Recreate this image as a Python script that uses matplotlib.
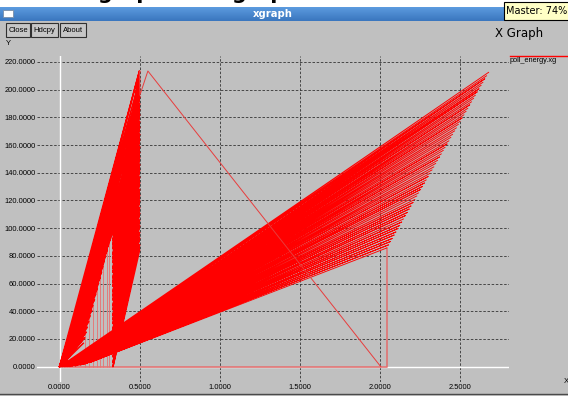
import numpy as np
import matplotlib
matplotlib.use("Agg")
import matplotlib.pyplot as plt
from matplotlib.patches import Rectangle

plt.rcParams['font.family'] = ['Liberation Sans', 'DejaVu Sans']

# ---- chart data ----
x_ticks = [0.0, 0.5, 1.0, 1.5, 2.0, 2.5]
y_ticks = [0, 20, 40, 60, 80, 100, 120, 140, 160, 180, 200, 220]
series_name = "poll_energy.xg"

# first burst: points near the origin joined to points up the 0.5 column
left_base_x = [0.00, 0.01, 0.02, 0.00, 0.03, 0.01, 0.02, 0.00, 0.01, 0.03,
               0.02, 0.00, 0.01, 0.02, 0.00, 0.03, 0.01, 0.02, 0.00, 0.01,
               0.03, 0.02, 0.00, 0.01, 0.02, 0.00, 0.03, 0.01, 0.02, 0.00,
               0.01, 0.02, 0.00, 0.01]
left_base_y = [0.0, 0.5, 1.0, 0.0, 1.5, 0.5, 1.0, 0.0, 0.5, 1.5,
               1.0, 0.0, 0.5, 1.0, 0.0, 1.5, 0.5, 1.0, 0.0, 0.5,
               1.5, 1.0, 0.0, 0.5, 1.0, 0.0, 1.5, 0.5, 1.0, 0.0,
               0.5, 1.0, 0.0, 0.5]
left_top_x = [0.148, 0.157, 0.166, 0.174, 0.183, 0.192, 0.201, 0.209, 0.218, 0.227,
              0.236, 0.244, 0.253, 0.262, 0.271, 0.279, 0.288, 0.297, 0.306, 0.314,
              0.323, 0.332, 0.496, 0.497, 0.496, 0.498, 0.497, 0.498, 0.497, 0.498,
              0.499, 0.498, 0.499, 0.499]
left_top_y = [16.9, 21.0, 25.0, 28.6, 32.7, 36.8, 40.8, 44.4, 48.5, 52.6,
              56.6, 60.3, 64.3, 68.4, 72.4, 76.1, 80.1, 84.2, 88.3, 91.9,
              95.9, 100.0, 147.0, 153.0, 159.0, 165.0, 171.0, 177.0, 183.0, 189.0,
              195.0, 201.0, 207.0, 213.7]

wedge_base_x = 0.333
wedge_base_y = [0, 3, 7, 10, 14, 17, 20, 24, 27, 31,
                34, 37, 41, 44, 48, 51, 54, 58, 61, 64,
                68, 71, 75, 78, 81, 85, 88, 91, 95, 98]
wedge_top_x = 0.499
wedge_top_y = [84, 88, 93, 97, 102, 106, 111, 115, 120, 124,
               128, 133, 137, 142, 146, 151, 155, 159, 164, 168,
               173, 177, 182, 186, 190, 195, 199, 204, 208, 213]

stub_x = [0.159, 0.186, 0.207, 0.232, 0.252, 0.273, 0.294, 0.310]
stub_top = [24, 37, 45, 58, 67, 76, 85, 93]

ridge_x = [0.499, 0.501, 0.551, 2.003]
ridge_y = [213.7, 196.0, 213.5, 0.0]
floor_x = [0.0, 2.040, 2.040]
floor_y = [0.0, 0.0, 85.7]

# second burst: far ends along the 2.04 -> 2.68 edge, near ends by the origin
fan2_top_x = [2.040, 2.052, 2.064, 2.075, 2.087, 2.098, 2.111, 2.122, 2.134, 2.145,
              2.158, 2.169, 2.181, 2.192, 2.205, 2.216, 2.228, 2.239, 2.252, 2.263,
              2.276, 2.287, 2.299, 2.310, 2.323, 2.334, 2.346, 2.357, 2.370, 2.381,
              2.393, 2.404, 2.417, 2.428, 2.440, 2.451, 2.464, 2.475, 2.487, 2.498,
              2.511, 2.522, 2.535, 2.546, 2.558, 2.569, 2.582, 2.593, 2.605, 2.616,
              2.629, 2.640, 2.652, 2.663, 2.676]
fan2_top_y = [85.7, 88.0, 90.4, 92.6, 95.1, 97.3, 99.8, 102.0, 104.5, 106.7,
              109.2, 111.4, 113.9, 116.1, 118.6, 120.8, 123.3, 125.5, 128.0, 130.2,
              132.7, 134.9, 137.4, 139.6, 142.1, 144.3, 146.8, 149.0, 151.5, 153.7,
              156.2, 158.4, 160.9, 163.1, 165.6, 167.8, 170.3, 172.5, 175.0, 177.2,
              179.7, 181.9, 184.4, 186.6, 189.1, 191.3, 193.8, 196.0, 198.5, 200.7,
              203.2, 205.4, 207.9, 210.1, 212.6]
fan2_base_x = [0.22, 0.19, 0.21, 0.17, 0.20, 0.16, 0.18, 0.15, 0.19, 0.14,
               0.17, 0.13, 0.16, 0.12, 0.15, 0.11, 0.14, 0.10, 0.13, 0.10,
               0.12, 0.09, 0.11, 0.08, 0.12, 0.08, 0.10, 0.07, 0.09, 0.06,
               0.10, 0.06, 0.08, 0.05, 0.07, 0.05, 0.08, 0.04, 0.06, 0.04,
               0.05, 0.03, 0.06, 0.03, 0.04, 0.02, 0.05, 0.02, 0.03, 0.02,
               0.04, 0.01, 0.02, 0.01, 0.00]
fan2_base_y = [4.5, 3.0, 4.0, 2.5, 3.5, 2.0, 3.0, 1.5, 3.0, 1.5,
               2.5, 1.0, 2.5, 1.0, 2.0, 1.0, 2.0, 0.5, 2.0, 0.5,
               1.5, 0.5, 1.5, 0.5, 1.5, 0.5, 1.0, 0.0, 1.0, 0.0,
               1.0, 0.0, 1.0, 0.0, 0.5, 0.0, 1.0, 0.0, 0.5, 0.0,
               0.5, 0.0, 0.5, 0.0, 0.5, 0.0, 0.5, 0.0, 0.0, 0.0,
               0.0, 0.0, 0.0, 0.0, 0.0]


def zigzag(bx, by, tx, ty):
    # join base/top pairs in turn, the way xgraph draws unsorted samples
    n = len(by)
    bx = np.broadcast_to(np.asarray(bx, float), (n,))
    tx = np.broadcast_to(np.asarray(tx, float), (n,))
    xs = np.empty(2 * n)
    ys = np.empty(2 * n)
    xs[0::2], xs[1::2] = tx, bx
    ys[0::2], ys[1::2] = ty, by
    return xs, ys


W, H = 568, 396
fig = plt.figure(figsize=(W / 100, H / 100), dpi=100, facecolor="#c0c0c0")

# window chrome, drawn in pixel coordinates
bg = fig.add_axes([0, 0, 1, 1], zorder=0)
bg.add_patch(Rectangle((0, 0), W, 7, facecolor="white", edgecolor="none"))
grad = np.linspace(0, 1, 14).reshape(-1, 1)
bar_cmap = matplotlib.colors.LinearSegmentedColormap.from_list("bar", ["#5b9ade", "#3b77bf"])
bg.imshow(grad, extent=(0, W, 21, 7), aspect="auto", cmap=bar_cmap, zorder=3)
bg.set_xlim(0, W)
bg.set_ylim(H, 0)
bg.axis("off")

# heading of the page behind the window; only its descenders peek out
for hx in (97, 231):
    bg.text(hx, -1.0, "graph", fontsize=15, fontweight="bold", family="DejaVu Sans",
            color="black", va="baseline", ha="left", zorder=2)
bg.add_patch(Rectangle((3, 10), 10, 7, facecolor="white", edgecolor="#7a8ea8", lw=0.6, zorder=4))
bg.text(273, 14.3, "xgraph", color="white", fontsize=7.2, fontweight="bold",
        family="DejaVu Sans", ha="center", va="center", zorder=4)

bg.add_patch(Rectangle((504, 1.5), 70, 18.5, facecolor="#ffffc6", edgecolor="black", lw=0.8, zorder=5))
bg.text(506, 11, "Master: 74%", fontsize=7, family="DejaVu Sans", ha="left", va="center", zorder=6)

for label, bx, bw in (("Close", 6, 24), ("Hdcpy", 31, 27), ("About", 60, 26)):
    bg.add_patch(Rectangle((bx, 23.3), bw, 14, facecolor="#c6c6c6", edgecolor="#303030", lw=0.8))
    bg.text(bx + bw / 2, 30.5, label, fontsize=5.5, ha="center", va="center")

bg.text(6, 43.5, "Y", fontsize=5.5, ha="left", va="center")
bg.text(495, 33.5, "X Graph", fontsize=8.5, family="DejaVu Sans", ha="left", va="center")
bg.plot([510, W], [55.7, 55.7], color="#ff0000", lw=1.0)
bg.text(510, 61, series_name, fontsize=5.3, ha="left", va="center")
bg.text(564, 381.5, "X", fontsize=5.5, ha="left", va="center")
bg.plot([0, W], [393.5, 393.5], color="#4a4a4a", lw=1.0)
bg.add_patch(Rectangle((0, 394), W, 2, facecolor="#cdcdcd", edgecolor="none"))

# plot area
left_px, right_px, top_px, bottom_px = 37, 509, 56, 382
ax = fig.add_axes([left_px / W, 1 - bottom_px / H, (right_px - left_px) / W, (bottom_px - top_px) / H],
                  zorder=1)
ax.set_facecolor("none")
ax.set_xlim(-0.1403, 2.8024)
ax.set_ylim(-11.05, 224.33)
for s in ax.spines.values():
    s.set_visible(False)

ax.set_xticks(x_ticks, ["%.4f" % v for v in x_ticks])
ax.set_yticks(y_ticks, ["%.4f" % v for v in y_ticks])
ax.tick_params(length=0, labelsize=5.4, pad=1.2)
ax.grid(True, color="#333333", lw=0.6, ls=(0, (3, 2)))
ax.set_axisbelow(True)
ax.axhline(0, color="white", lw=1.0, zorder=1.5)
ax.axvline(0, color="white", lw=1.0, zorder=1.5)

red = "#ff0000"
ax.plot(floor_x, floor_y, color="#e07272", lw=1.2, zorder=2)
xs, ys = zigzag(fan2_base_x, fan2_base_y, fan2_top_x, fan2_top_y)
ax.plot(xs, ys, color=red, lw=0.65, zorder=3)
xs, ys = zigzag(left_base_x, left_base_y, left_top_x, left_top_y)
ax.plot(xs, ys, color=red, lw=1.1, zorder=3)
xs, ys = zigzag(wedge_base_x, wedge_base_y, wedge_top_x, wedge_top_y)
ax.plot(xs, ys, color=red, lw=1.1, zorder=3)
ax.vlines(stub_x, 0, stub_top, color="#e87070", lw=0.6, zorder=2.5)
ax.plot(ridge_x, ridge_y, color="#e83c3c", lw=0.7, zorder=3)

fig.savefig("out.png", dpi=100, facecolor=fig.get_facecolor())
